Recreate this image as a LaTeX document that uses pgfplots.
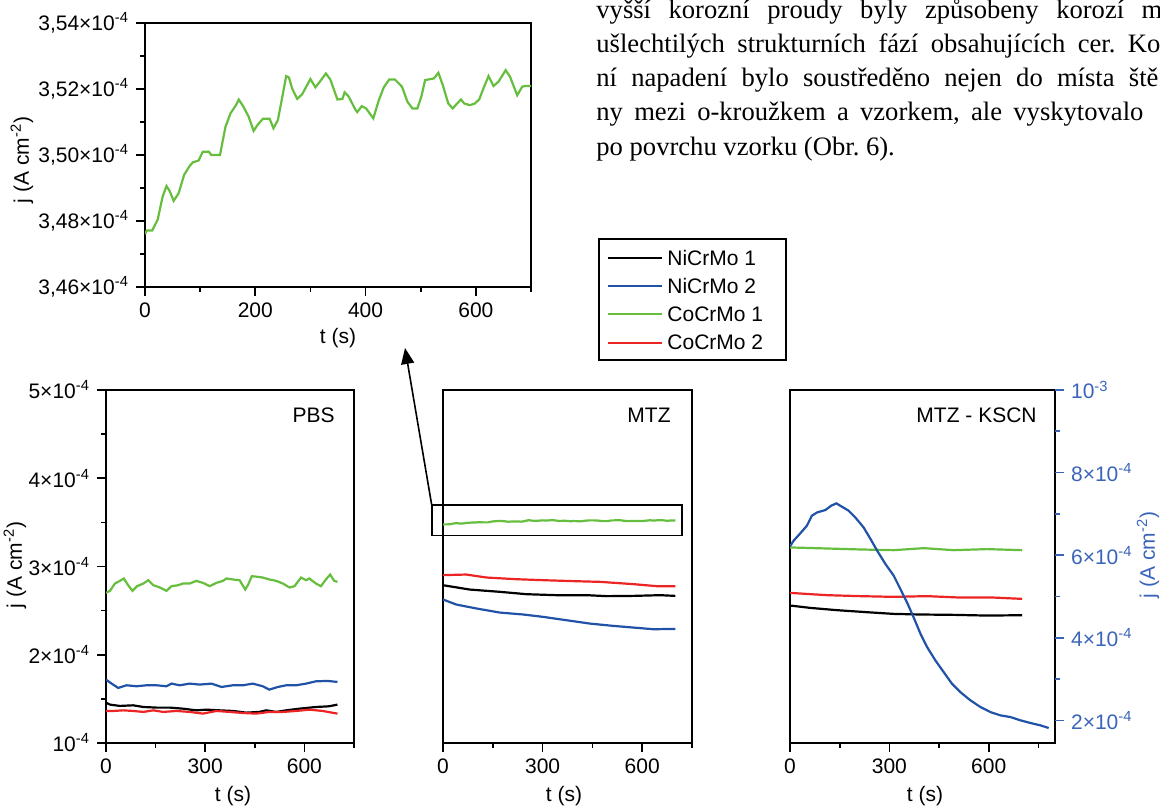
\documentclass[border=0pt]{standalone}
\usepackage{fontspec}
\setmainfont{Liberation Sans}
\newfontfamily\timesfont{Liberation Serif}
\usepackage{pgfplots}
\usepackage{pgfplotstable}
\pgfplotsset{compat=1.18}
\usetikzlibrary{arrows.meta}

\definecolor{cblue}{RGB}{32,82,168}
\definecolor{lblue}{RGB}{58,100,186}
\definecolor{cgreen}{RGB}{102,190,62}
\definecolor{cred}{RGB}{236,36,36}

\newcommand{\sfs}{\fontsize{10.5}{12.6}\selectfont}
\newcommand{\sx}[1]{×10\textsuperscript{#1}}

\pgfplotsset{
  panel/.style={
    scale only axis, anchor=south west,
    axis line style={line width=0.8pt},
    tick style={black, line width=0.8pt},
    tick align=outside,
    major tick length=4.5pt, minor tick length=2.5pt,
    xtick pos=bottom, ytick pos=left,
    tick label style={font=\sfs},
    every axis plot/.append style={line width=1.1pt, no markers},
  },
}

\pgfplotstableread{
t v
0 3.4760
3 3.4771
13 3.4771
23 3.4804
32 3.4874
39 3.4906
45 3.4890
52 3.4861
61 3.4884
71 3.4940
81 3.4967
87 3.4978
97 3.4983
105 3.5010
116 3.5010
120 3.5000
136 3.5000
146 3.5086
155 3.5126
165 3.5151
170 3.5168
178 3.5148
188 3.5116
197 3.5073
204 3.5091
214 3.5110
226 3.5110
233 3.5081
241 3.5106
249 3.5176
256 3.5239
261 3.5235
267 3.5201
276 3.5170
285 3.5184
294 3.5212
300 3.5230
309 3.5205
317 3.5222
328 3.5247
336 3.5229
349 3.5168
358 3.5170
362 3.5190
369 3.5178
382 3.5136
385 3.5130
393 3.5148
401 3.5141
414 3.5111
424 3.5166
433 3.5205
443 3.5229
453 3.5229
466 3.5207
476 3.5161
485 3.5141
494 3.5141
501 3.5176
508 3.5227
524 3.5232
532 3.5249
540 3.5212
550 3.5156
558 3.5141
566 3.5156
573 3.5168
579 3.5156
589 3.5151
598 3.5156
606 3.5168
615 3.5207
623 3.5239
632 3.5209
641 3.5222
654 3.5257
662 3.5237
675 3.5181
684 3.5207
690 3.5209
700 3.5209
}\greenMTZ

\begin{document}
\begin{tikzpicture}

% ---------- text paragraph ----------
\begin{scope}[every node/.style={anchor=base west, inner sep=0pt, font=\timesfont\fontsize{13.3}{16}\selectfont}]
\node at (298pt,394pt) {\frenchspacing\makebox[283pt][s]{vyšší korozní proudy byly způsobeny korozí m}};
\node at (298pt,377pt) {\frenchspacing\makebox[282pt][s]{ušlechtilých strukturních fází obsahujících cer. Ko}};
\node at (298pt,360pt) {\frenchspacing\makebox[281pt][s]{ní napadení bylo soustředěno nejen do místa ště}};
\node at (298pt,343pt) {\frenchspacing\makebox[273.5pt][s]{ny mezi o-kroužkem a vzorkem, ale vyskytovalo}};
\node at (298pt,325.5pt) {\frenchspacing po povrchu vzorku (Obr. 6).};
\end{scope}

% ---------- inset ----------
\begin{axis}[panel, at={(72.5pt,260pt)}, width=193pt, height=132pt,
  xmin=0, xmax=700, ymin=3.46, ymax=3.54,
  xtick={0,200,400,600}, xticklabels={0,200,400,600},
  minor xtick={100,300,500,700},
  ytick={3.46,3.48,3.50,3.52,3.54},
  yticklabels={{3,46\sx{-4}},{3,48\sx{-4}},{3,50\sx{-4}},{3,52\sx{-4}},{3,54\sx{-4}}},
  minor ytick={3.47,3.49,3.51,3.53}]
\addplot[cgreen] table[x=t,y=v] {\greenMTZ};
\end{axis}

% ---------- PBS ----------
\begin{axis}[panel, at={(53pt,32pt)}, width=124pt, height=176.5pt,
  xmin=0, xmax=750, ymin=1, ymax=5,
  xtick={0,300,600}, xticklabels={0,300,600}, minor xtick={150,450,750},
  ytick={1,2,3,4,5},
  yticklabels={10\textsuperscript{-4},2\sx{-4},3\sx{-4},4\sx{-4},5\sx{-4}},
  minor ytick={1.5,2.5,3.5,4.5}]
\addplot[cgreen] coordinates {(0,2.701)(12,2.724)(27,2.807)(42,2.837)(54,2.864)(67,2.788)(80,2.724)(94,2.777)(113,2.807)(128,2.845)(143,2.788)(163,2.762)(183,2.724)(198,2.777)(218,2.788)(233,2.807)(253,2.807)(273,2.837)(293,2.815)(314,2.777)(334,2.815)(354,2.837)(364,2.864)(384,2.853)(404,2.845)(421,2.739)(429,2.788)(441,2.890)(459,2.883)(474,2.875)(494,2.853)(515,2.837)(535,2.807)(555,2.762)(570,2.777)(590,2.875)(605,2.845)(615,2.864)(635,2.807)(650,2.777)(665,2.853)(678,2.909)(690,2.837)(700,2.826)};
\addplot[cblue] coordinates {(0,1.718)(17,1.673)(37,1.624)(62,1.654)(92,1.643)(123,1.654)(153,1.654)(183,1.643)(198,1.673)(223,1.654)(253,1.673)(283,1.662)(319,1.673)(349,1.635)(384,1.654)(414,1.654)(444,1.673)(474,1.643)(494,1.605)(520,1.635)(545,1.654)(575,1.654)(605,1.673)(635,1.699)(670,1.703)(700,1.692)};
\addplot[black] coordinates {(0,1.457)(12,1.435)(42,1.420)(82,1.427)(113,1.408)(153,1.401)(193,1.401)(233,1.389)(273,1.370)(304,1.378)(344,1.370)(384,1.363)(424,1.344)(464,1.352)(484,1.370)(515,1.352)(545,1.370)(585,1.389)(635,1.408)(675,1.416)(700,1.435)};
\addplot[cred] coordinates {(0,1.363)(22,1.363)(52,1.370)(82,1.363)(113,1.352)(143,1.370)(173,1.352)(213,1.363)(253,1.352)(293,1.333)(334,1.363)(374,1.352)(414,1.340)(454,1.333)(494,1.352)(535,1.352)(575,1.363)(615,1.378)(655,1.363)(700,1.333)};
\end{axis}

% ---------- MTZ ----------
\begin{axis}[panel, at={(221.5pt,32pt)}, width=124.5pt, height=176.5pt,
  xmin=0, xmax=750, ymin=1, ymax=5,
  xtick={0,300,600}, xticklabels={0,300,600}, minor xtick={150,450,750},
  ytick=\empty]
\addplot[cgreen] table[x=t,y=v] {\greenMTZ};
\addplot[cred] coordinates {(0,2.902)(70,2.909)(131,2.875)(221,2.856)(302,2.845)(393,2.834)(473,2.826)(574,2.800)(644,2.777)(700,2.777)};
\addplot[black] coordinates {(0,2.788)(80,2.739)(171,2.713)(252,2.686)(342,2.675)(433,2.675)(493,2.664)(574,2.667)(654,2.675)(700,2.667)};
\addplot[cblue] coordinates {(0,2.626)(40,2.569)(101,2.524)(171,2.478)(242,2.456)(302,2.429)(372,2.391)(443,2.353)(513,2.327)(574,2.308)(634,2.289)(700,2.293)};
\end{axis}

% ---------- MTZ - KSCN ----------
\begin{axis}[panel, at={(395pt,32pt)}, width=132.5pt, height=176.5pt,
  xmin=0, xmax=800, ymin=1, ymax=5,
  xtick={0,300,600}, xticklabels={0,300,600}, minor xtick={150,450,750},
  ytick=\empty]
\addplot[cgreen] coordinates {(0,3.216)(112,3.204)(212,3.193)(313,3.185)(404,3.208)(494,3.185)(595,3.197)(701,3.185)};
\addplot[cred] coordinates {(0,2.701)(112,2.675)(212,2.664)(313,2.656)(414,2.664)(514,2.648)(615,2.648)(701,2.633)};
\addplot[black] coordinates {(0,2.558)(61,2.531)(142,2.505)(233,2.482)(313,2.463)(394,2.456)(494,2.452)(595,2.444)(701,2.448)};
\end{axis}
\begin{axis}[panel, at={(395pt,32pt)}, width=132.5pt, height=176.5pt,
  xmin=0, xmax=800, ymin=1.452, ymax=10,
  axis x line=none, axis y line*=right, y axis line style={draw=none},
  ytick pos=right,
  ytick={2,4,6,8,10}, minor ytick={3,5,7,9},
  yticklabels={2\sx{-4},4\sx{-4},6\sx{-4},8\sx{-4},10\textsuperscript{-3}},
  ytick style={lblue, line width=0.8pt},
  yticklabel style={text=lblue}]
\addplot[cblue] coordinates {(0,6.214)(11,6.351)(31,6.529)(51,6.714)(66,6.956)(82,7.036)(107,7.093)(124,7.197)(140,7.254)(157,7.173)(177,7.077)(197,6.915)(222,6.674)(243,6.392)(263,6.110)(288,5.787)(313,5.505)(333,5.183)(353,4.861)(373,4.498)(394,4.095)(414,3.773)(439,3.450)(464,3.168)(489,2.886)(514,2.685)(545,2.483)(575,2.322)(605,2.201)(635,2.121)(665,2.081)(696,2.000)(726,1.936)(756,1.879)(781,1.815)};
\end{axis}

% ---------- labels ----------
\begin{scope}[every node/.style={font=\sfs, inner sep=0pt}]
\node[rotate=90] at (11pt,323.5pt) {j (A cm\textsuperscript{-2})};
\node at (169pt,234.5pt) {t (s)};
\node[rotate=90] at (7.5pt,121pt) {j (A cm\textsuperscript{-2})};
\node at (116.5pt,5.5pt) {t (s)};
\node at (282pt,5.5pt) {t (s)};
\node at (462.5pt,5.5pt) {t (s)};
\node[rotate=90, text=lblue] at (574pt,126pt) {j (A cm\textsuperscript{-2})};
\node[anchor=east] at (167.5pt,196pt) {PBS};
\node[anchor=east] at (335.5pt,196pt) {MTZ};
\node[anchor=east] at (518.5pt,196pt) {MTZ - KSCN};
\end{scope}

% ---------- zoom marker ----------
\draw[line width=0.8pt] (215.85pt,135.65pt) rectangle (340.85pt,151pt);
\draw[line width=0.8pt, -{Triangle[length=8pt,width=6.5pt]}] (215.85pt,151pt) -- (202.5pt,229.5pt);

% ---------- legend ----------
\draw[line width=0.8pt] (299.5pt,284pt) rectangle (393pt,223.5pt);
\draw[line width=1.1pt, black] (304pt,274.65pt) -- (331pt,274.65pt);
\draw[line width=1.1pt, cblue] (304pt,260.5pt) -- (331pt,260.5pt);
\draw[line width=1.1pt, cgreen] (304pt,246.35pt) -- (331pt,246.35pt);
\draw[line width=1.1pt, cred] (304pt,232.15pt) -- (331pt,232.15pt);
\begin{scope}[every node/.style={font=\sfs, inner sep=0pt, anchor=west}]
\node at (333.5pt,274.65pt) {NiCrMo 1};
\node at (333.5pt,260.5pt) {NiCrMo 2};
\node at (333.5pt,246.35pt) {CoCrMo 1};
\node at (333.5pt,232.15pt) {CoCrMo 2};
\end{scope}

\pgfresetboundingbox
\path[use as bounding box] (0,0) rectangle (580pt,403.5pt);
\end{tikzpicture}
\end{document}
